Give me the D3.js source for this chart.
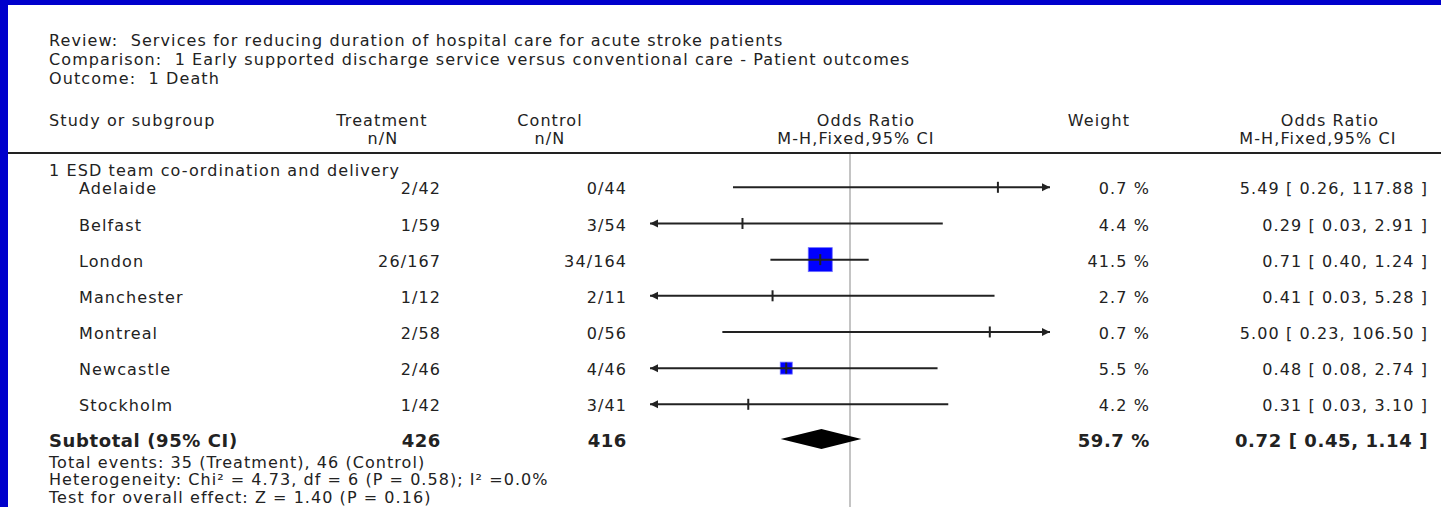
<!DOCTYPE html>
<html><head><meta charset="utf-8">
<script src="https://cdn.jsdelivr.net/npm/d3@7"></script>
<style>
html,body{margin:0;padding:0;background:#fff;}
svg{display:block;}
text{font-family:"DejaVu Sans",sans-serif;fill:#222;white-space:pre;}
</style></head>
<body>
<svg id="chart" width="1441" height="507"></svg>
<script>
// ---- data ----
const titleLines = [
  "Review:  Services for reducing duration of hospital care for acute stroke patients",
  "Comparison:  1 Early supported discharge service versus conventional care - Patient outcomes",
  "Outcome:  1 Death"
];
const subgroupLabel = "1 ESD team co-ordination and delivery";
const studies = ["Adelaide","Belfast","London","Manchester","Montreal","Newcastle","Stockholm"];
const treatment = ["2/42","1/59","26/167","1/12","2/58","2/46","1/42"];
const control = ["0/44","3/54","34/164","2/11","0/56","4/46","3/41"];
const orValues = [5.49,0.29,0.71,0.41,5.00,0.48,0.31];
const ciLower = [0.26,0.03,0.40,0.03,0.23,0.08,0.03];
const ciUpper = [117.88,2.91,1.24,5.28,106.50,2.74,3.10];
const weights = [0.7,4.4,41.5,2.7,0.7,5.5,4.2];
const subtotal = {label:"Subtotal (95% CI)", treatN:"426", ctrlN:"416", weight:"59.7 %", or:0.72, lo:0.45, hi:1.14};
const footerLines = [
  "Total events: 35 (Treatment), 46 (Control)",
  "Heterogeneity: Chi\u00B2 = 4.73, df = 6 (P = 0.58); I\u00B2 =0.0%",
  "Test for overall effect: Z = 1.40 (P = 0.16)"
];
const axisDomain = [0.1, 10];

// ---- drawing ----
const svg = d3.select("#chart");
const W = 1441, H = 507;
svg.append("rect").attr("width",W).attr("height",H).attr("fill","#0000cc");
svg.append("rect").attr("x",8).attr("y",5).attr("width",W-8).attr("height",H-5).attr("fill","#fff");

const fs = 16, ls = "1.1px";
const fmt2 = d3.format(".2f");
const fmtCI = (o,l,h) => `${fmt2(o)} [ ${fmt2(l)}, ${fmt2(h)} ]`;

// header text
svg.selectAll("text.title").data(titleLines).join("text")
  .attr("class","title").attr("x",49).attr("y",(d,i)=>40+i*19).attr("dy","0.35em")
  .style("font-size",fs+"px").style("letter-spacing",ls).text(d=>d);

const colX = {label:49, treat:441, ctrl:627, weight:1150, ci:1428};
const heads = [
  {t:"Study or subgroup", x:49, y:120, a:"start"},
  {t:"Treatment", x:382, y:120, a:"middle"},
  {t:"n/N", x:383, y:138, a:"middle"},
  {t:"Control", x:550, y:120, a:"middle"},
  {t:"n/N", x:550, y:138, a:"middle"},
  {t:"Odds Ratio", x:866, y:120, a:"middle"},
  {t:"M-H,Fixed,95% CI", x:856, y:138, a:"middle"},
  {t:"Weight", x:1099, y:120, a:"middle"},
  {t:"Odds Ratio", x:1330, y:120, a:"middle"},
  {t:"M-H,Fixed,95% CI", x:1318, y:138, a:"middle"}
];
svg.selectAll("text.head").data(heads).join("text").attr("class","head")
  .attr("x",d=>d.x).attr("y",d=>d.y).attr("dy","0.35em").attr("text-anchor",d=>d.a)
  .style("font-size",fs+"px").style("letter-spacing",ls).text(d=>d.t);

// header rule
svg.append("line").attr("x1",8).attr("x2",W).attr("y1",153).attr("y2",153)
  .attr("stroke","#222").attr("stroke-width",2);

// scales
const x = d3.scaleLog().domain(axisDomain).range([650,1050]);
const y = d3.scalePoint().domain(studies).range([187.3,404.3]);
const subY = 439;
const boxSize = d3.scaleLinear().domain([5.5,41.5]).range([12,24]);

// null line
svg.append("line").attr("x1",x(1)).attr("x2",x(1)).attr("y1",154).attr("y2",H)
  .attr("stroke","#c4c4c4").attr("stroke-width",2);

// subgroup label
svg.append("text").attr("x",49).attr("y",170).attr("dy","0.35em")
  .style("font-size",fs+"px").style("letter-spacing",ls).text(subgroupLabel);

const rows = studies.map((s,i)=>({s, t:treatment[i], c:control[i], or:orValues[i], lo:ciLower[i], hi:ciUpper[i], w:weights[i]}));
const g = svg.selectAll("g.row").data(rows).join("g").attr("class","row");

const txt = (sel, xx, anchor, fn) => sel.append("text").attr("x",xx).attr("y",d=>y(d.s)+1.5).attr("dy","0.35em")
  .attr("text-anchor",anchor).style("font-size",fs+"px").style("letter-spacing",ls).text(fn);
txt(g, 79, "start", d=>d.s);
txt(g, colX.treat, "end", d=>d.t);
txt(g, colX.ctrl, "end", d=>d.c);
txt(g, colX.weight, "end", d=>d.w.toFixed(1)+" %");
txt(g, colX.ci, "end", d=>fmtCI(d.or,d.lo,d.hi));

const [dMin,dMax] = axisDomain;
const clampX = v => x(Math.max(dMin, Math.min(dMax, v)));
// boxes
g.filter(d=>d.w>=5).append("rect")
  .attr("x",d=>x(d.or)-boxSize(d.w)/2).attr("y",d=>y(d.s)-boxSize(d.w)/2)
  .attr("width",d=>boxSize(d.w)).attr("height",d=>boxSize(d.w))
  .attr("fill","#0000ff").attr("stroke","#6f6fff").attr("stroke-width",0.8);
// CI lines
g.append("line").attr("x1",d=>clampX(d.lo)).attr("x2",d=>clampX(d.hi))
  .attr("y1",d=>y(d.s)).attr("y2",d=>y(d.s)).attr("stroke","#222").attr("stroke-width",2);
// point ticks
g.append("line").attr("x1",d=>x(d.or)).attr("x2",d=>x(d.or))
  .attr("y1",d=>y(d.s)-5.5).attr("y2",d=>y(d.s)+5.5).attr("stroke","#222").attr("stroke-width",2);
// arrows
g.filter(d=>d.lo<dMin).append("path")
  .attr("d",d=>{const xx=x(dMin), yy=y(d.s); return `M${xx},${yy}L${xx+8},${yy-4}L${xx+8},${yy+4}Z`;})
  .attr("fill","#222");
g.filter(d=>d.hi>dMax).append("path")
  .attr("d",d=>{const xx=x(dMax), yy=y(d.s); return `M${xx},${yy}L${xx-8},${yy-4}L${xx-8},${yy+4}Z`;})
  .attr("fill","#222");

// subtotal
svg.append("path")
  .attr("d",`M${x(subtotal.lo)},${subY}L${x(subtotal.or)},${subY-10}L${x(subtotal.hi)},${subY}L${x(subtotal.or)},${subY+10}Z`)
  .attr("fill","#000");
const bold = [
  {t:subtotal.label, x:49, a:"start"},
  {t:subtotal.treatN, x:colX.treat, a:"end"},
  {t:subtotal.ctrlN, x:colX.ctrl, a:"end"},
  {t:subtotal.weight, x:colX.weight, a:"end"},
  {t:fmtCI(subtotal.or,subtotal.lo,subtotal.hi), x:colX.ci, a:"end"}
];
svg.selectAll("text.bold").data(bold).join("text").attr("class","bold")
  .attr("x",d=>d.x).attr("y",subY+2).attr("dy","0.35em").attr("text-anchor",d=>d.a)
  .style("font-size","18px").style("font-weight","bold").style("letter-spacing","0.6px").text(d=>d.t);

svg.selectAll("text.foot").data(footerLines).join("text").attr("class","foot")
  .attr("x",49).attr("y",(d,i)=>462+i*17.5).attr("dy","0.35em")
  .style("font-size","16px").style("letter-spacing","1.05px").text(d=>d);
</script>
</body></html>
